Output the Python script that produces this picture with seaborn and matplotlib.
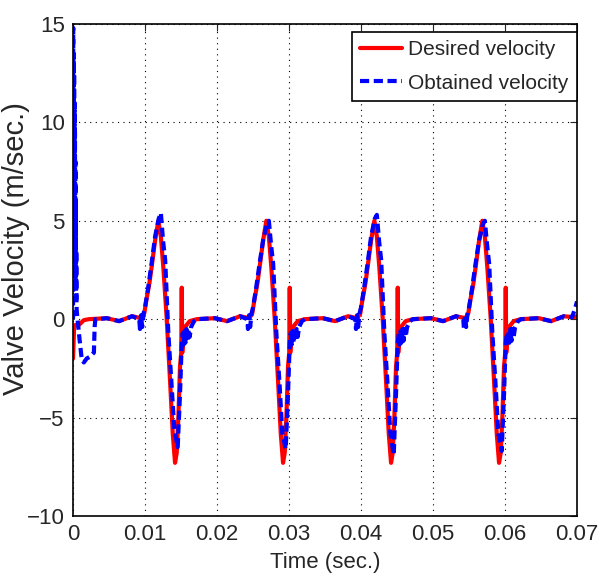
import numpy as np
import pandas as pd
import matplotlib
matplotlib.use('Agg')
import matplotlib.pyplot as plt
import seaborn as sns

sns.set_style('white')
plt.rcParams['font.family'] = ['Liberation Sans', 'DejaVu Sans']
plt.rcParams.update({'font.size': 16, 'legend.fontsize': 15})

# time in ms, velocity in m/s
t_desired = [0.0, 0.15, 0.3, 0.8, 1.5, 2.2, 4.7, 6.4, 8.2, 9.5,
             9.9, 10.2, 10.6, 10.9, 11.4, 11.85, 12.2, 12.55, 13.0, 13.5, 13.85, 14.17, 14.4, 14.63, 14.86, 15.03, 15.1, 15.17, 15.35, 15.55, 16.2, 17.2,
             19.7, 21.4, 23.2, 24.5,
             24.9, 25.2, 25.6, 25.9, 26.4, 26.85, 27.2, 27.55, 28.0, 28.5, 28.85, 29.17, 29.4, 29.63, 29.86, 30.03, 30.1, 30.17, 30.35, 30.55, 31.2, 32.2,
             34.7, 36.4, 38.2, 39.5,
             39.9, 40.2, 40.6, 40.9, 41.4, 41.85, 42.2, 42.55, 43.0, 43.5, 43.85, 44.17, 44.4, 44.63, 44.86, 45.03, 45.1, 45.17, 45.35, 45.55, 46.2, 47.2,
             49.7, 51.4, 53.2, 54.5,
             54.9, 55.2, 55.6, 55.9, 56.4, 56.85, 57.2, 57.55, 58.0, 58.5, 58.85, 59.17, 59.4, 59.63, 59.86, 60.03, 60.1, 60.17, 60.35, 60.55, 61.2, 62.2,
             64.7, 66.4, 68.2, 69.5, 70.0]
v_desired = [-2.0, -0.4, -0.3, -0.3, -0.05, 0.0, 0.05, -0.1, 0.15, 0.05,
             0.3, 1.0, 1.8, 2.6, 4.0, 5.0, 4.2, 2.6, 0.1, -3.3, -5.8, -7.3, -6.8, -5.0, -2.4, -1.7, 1.6, -1.7, -0.8, -0.4, -0.1, 0.0,
             0.05, -0.1, 0.15, 0.05,
             0.3, 1.0, 1.8, 2.6, 4.0, 5.0, 4.2, 2.6, 0.1, -3.3, -5.8, -7.3, -6.8, -5.0, -2.4, -1.7, 1.6, -1.7, -0.8, -0.4, -0.1, 0.0,
             0.05, -0.1, 0.15, 0.05,
             0.3, 1.0, 1.8, 2.6, 4.0, 5.0, 4.2, 2.6, 0.1, -3.3, -5.8, -7.3, -6.8, -5.0, -2.4, -1.7, 1.6, -1.7, -0.8, -0.4, -0.1, 0.0,
             0.05, -0.1, 0.15, 0.05,
             0.3, 1.0, 1.8, 2.6, 4.0, 5.0, 4.2, 2.6, 0.1, -3.3, -5.8, -7.3, -6.8, -5.0, -2.4, -1.7, 1.6, -1.7, -0.8, -0.4, -0.1, 0.0,
             0.05, -0.1, 0.15, 0.1, 0.15]

t_obtained = [0.0, 0.03, 0.06, 0.09, 0.12, 0.15, 0.18, 0.21, 0.24, 0.27, 0.3, 0.33, 0.36, 0.39, 0.42, 0.45, 0.5, 0.6,
              0.9, 1.2, 1.5, 1.9, 2.4, 2.9, 3.0, 3.1, 3.5, 4.7, 6.4, 8.2,
              9.2, 9.3, 9.45, 9.6, 9.8, 10.0, 10.4, 10.9, 11.4, 11.9, 12.2, 12.5, 12.8, 13.24, 13.7, 14.07, 14.54, 14.86, 15.1,
              15.25, 15.35, 15.5, 15.6, 15.75, 15.9, 16.05, 16.2, 16.4, 16.8, 17.2,
              19.7, 21.4, 23.2,
              24.2, 24.3, 24.45, 24.6, 24.8, 25.0, 25.4, 25.9, 26.4, 26.9, 27.2, 27.5, 27.8, 28.24, 28.7, 29.07, 29.54, 29.86, 30.1,
              30.25, 30.35, 30.5, 30.6, 30.75, 30.9, 31.05, 31.2, 31.4, 31.8, 32.2,
              34.7, 36.4, 38.2,
              39.2, 39.3, 39.45, 39.6, 39.8, 40.0, 40.4, 40.9, 41.4, 41.9, 42.2, 42.5, 42.8, 43.24, 43.7, 44.07, 44.54, 44.86, 45.1,
              45.25, 45.35, 45.5, 45.6, 45.75, 45.9, 46.05, 46.2, 46.4, 46.8, 47.2,
              49.7, 51.4, 53.2,
              54.2, 54.3, 54.45, 54.6, 54.8, 55.0, 55.4, 55.9, 56.4, 56.9, 57.2, 57.5, 57.8, 58.24, 58.7, 59.07, 59.54, 59.86, 60.1,
              60.25, 60.35, 60.5, 60.6, 60.75, 60.9, 61.05, 61.2, 61.4, 61.8, 62.2,
              64.7, 66.4, 68.2, 69.3, 69.7, 70.0]
v_obtained = [0.0, 14.8, 4.0, 13.5, 3.0, 12.5, 5.0, 11.0, 2.5, 9.5, 3.5, 8.0, 1.5, 6.0, 1.0, 3.5, 0.5, 0.1,
              -1.0, -2.0, -2.2, -2.0, -1.9, -1.7, -0.4, 0.0, 0.0, 0.05, -0.1, 0.15,
              0.0, -0.5, 0.2, -0.4, 0.3, 0.6, 1.5, 2.8, 4.2, 5.1, 5.4, 4.0, 3.0, -0.7, -3.4, -5.6, -6.5, -3.8, -1.2,
              -0.7, -1.3, -0.6, -1.2, -0.5, -1.1, -0.5, -0.9, -0.4, -0.1, 0.0,
              0.05, -0.1, 0.15,
              0.0, -0.5, 0.2, -0.4, 0.3, 0.6, 1.5, 2.8, 4.0, 4.8, 5.0, 3.8, 2.8, -0.7, -3.4, -5.8, -6.6, -3.8, -1.2,
              -0.7, -1.3, -0.6, -1.2, -0.5, -1.1, -0.5, -0.9, -0.4, -0.1, 0.0,
              0.05, -0.1, 0.15,
              0.0, -0.5, 0.2, -0.4, 0.3, 0.6, 1.5, 2.8, 4.2, 5.1, 5.3, 4.0, 3.0, -0.7, -3.4, -5.8, -6.9, -3.8, -1.2,
              -0.7, -1.3, -0.6, -1.2, -0.5, -1.1, -0.5, -0.9, -0.4, -0.1, 0.0,
              0.05, -0.1, 0.15,
              0.0, -0.5, 0.2, -0.4, 0.3, 0.6, 1.5, 2.8, 4.0, 4.8, 5.0, 3.8, 2.8, -0.7, -3.4, -5.8, -6.7, -3.8, -1.2,
              -0.7, -1.3, -0.6, -1.2, -0.5, -1.1, -0.5, -0.9, -0.4, -0.1, 0.0,
              0.05, -0.1, 0.15, 0.1, 0.5, 0.9]

df_des = pd.DataFrame({'t': np.array(t_desired) / 1000, 'v': v_desired})
df_obt = pd.DataFrame({'t': np.array(t_obtained) / 1000, 'v': v_obtained})

fig = plt.figure(figsize=(6, 5.76), dpi=100)
ax = fig.add_axes([0.1217, 0.1042, 0.84, 0.8542])

sns.lineplot(data=df_des, x='t', y='v', ax=ax, color='#ff0000', linewidth=3.0,
             label='Desired velocity', sort=False, estimator=None)
sns.lineplot(data=df_obt, x='t', y='v', ax=ax, color='#0000ff', linewidth=3.0,
             linestyle=(0, (2.2, 1.1)), label='Obtained velocity', sort=False, estimator=None)

ax.set_xlim(0, 0.07)
ax.set_ylim(-10, 15)
ax.set_xticks(np.arange(0, 0.071, 0.01))
ax.set_xticklabels(['0', '0.01', '0.02', '0.03', '0.04', '0.05', '0.06', '0.07'])
ax.set_yticks([-10, -5, 0, 5, 10, 15])
ax.grid(True, linestyle=(0, (1, 4)), color='k', linewidth=0.8)
ax.tick_params(direction='in', top=True, right=True, length=5, width=0.8, pad=6, labelsize=16)
for s in ax.spines.values():
    s.set_color('k')
    s.set_linewidth(1.2)

ax.set_xlabel('Time (sec.)', fontsize=16, labelpad=5)
ax.set_ylabel('Valve Velocity (m/sec.)', fontsize=21)
ax.yaxis.set_label_coords(-0.085, 0.544)

leg = ax.legend(loc='upper right', bbox_to_anchor=(1.0, 0.984), borderaxespad=0.0,
                frameon=True, fancybox=False, edgecolor='k', framealpha=1,
                handlelength=2.0, handletextpad=0.3, labelspacing=0.7, borderpad=0.4)
leg.get_frame().set_linewidth(1.2)

fig.savefig('out.png', dpi=100)
